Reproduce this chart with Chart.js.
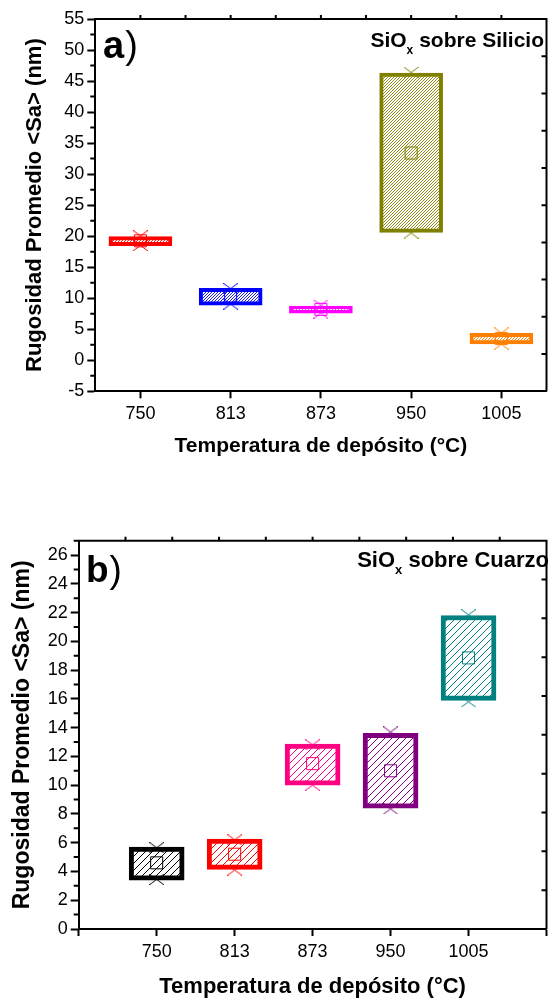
<!DOCTYPE html>
<html lang="es">
<head>
<meta charset="UTF-8">
<title>Rugosidad promedio vs temperatura de depósito</title>
<script src="https://cdn.jsdelivr.net/npm/chart.js"></script>
<style>
  body { margin: 0; background: #fff; }
  .panel { position: absolute; left: 0; width: 556px; height: 500px; }
  #wrapA { top: 0; }
  #wrapB { top: 500px; }
</style>
</head>
<body>
<div class="panel" id="wrapA"><canvas id="chartA" width="556" height="500"></canvas></div>
<div class="panel" id="wrapB"><canvas id="chartB" width="556" height="500"></canvas></div>
<script>
// === Data ===
const temps = ['750', '813', '873', '950', '1005'];

// a) SiOx sobre Silicio
const siBoxLow  = [18.45, 8.9, 7.6, 20.6, 2.65];
const siBoxHigh = [19.95, 11.6, 8.75, 46.3, 4.35];
const siMean    = [19.25, 10.3, 8.2, 33.4, 3.5];
const siMin     = [18.5, 9.05, 7.6, 20.5, 2.6];
const siMax     = [20.05, 11.55, 8.9, 46.4, 4.4];
const siColors  = ['#ff0000', '#0000ff', '#ff00ff', '#808000', '#ff8000'];
const siYTicks  = [-5, 0, 5, 10, 15, 20, 25, 30, 35, 40, 45, 50, 55];

// b) SiOx sobre Cuarzo
const quBoxLow  = [3.4, 4.15, 10.0, 8.4, 15.9];
const quBoxHigh = [5.7, 6.25, 12.85, 13.6, 21.8];
const quMean    = [4.6, 5.2, 11.5, 11.0, 18.85];
const quMin     = [3.45, 4.1, 10.0, 8.35, 15.8];
const quMax     = [5.65, 6.2, 12.8, 13.7, 21.85];
const quColors  = ['#000000', '#ff0000', '#ff0080', '#800080', '#008080'];
const quYTicks  = [0, 2, 4, 6, 8, 10, 12, 14, 16, 18, 20, 22, 24, 26];

const FONT = '"Liberation Sans", Arial, sans-serif';

// === hatch fill "/" ===
function hatch(ctx, color, step, lw) {
  const c = document.createElement('canvas');
  c.width = step; c.height = step;
  const g = c.getContext('2d');
  g.fillStyle = '#fff';
  g.fillRect(0, 0, step, step);
  g.strokeStyle = color;
  g.lineWidth = lw;
  g.beginPath();
  g.moveTo(-1, step + 1); g.lineTo(step + 1, -1);
  g.moveTo(-1, 1); g.lineTo(1, -1);
  g.moveTo(step - 1, step + 1); g.lineTo(step + 1, step - 1);
  g.stroke();
  return ctx.createPattern(c, 'repeat');
}

// === X marker (a bit wider than tall, like Origin) ===
function crossMark(color, w, h) {
  const c = document.createElement('canvas');
  c.width = w; c.height = h;
  const g = c.getContext('2d');
  g.strokeStyle = color;
  g.lineWidth = 1;
  g.beginPath();
  g.moveTo(0, 0); g.lineTo(w, h);
  g.moveTo(w, 0); g.lineTo(0, h);
  g.stroke();
  return c;
}

// === frame, minor ticks, panel label, inner title ===
const framePlugin = {
  id: 'frame',
  afterDraw(chart, args, o) {
    const { ctx, chartArea: a, scales: { y } } = chart;
    ctx.save();
    ctx.strokeStyle = '#000';
    ctx.lineWidth = 2;
    ctx.beginPath();
    ctx.moveTo(a.left, a.top); ctx.lineTo(a.right, a.top); ctx.lineTo(a.right, a.bottom);
    for (let k = 1; k < 10; k++) {
      const px = a.left + (a.right - a.left) * k / 10;
      ctx.moveTo(px, a.top); ctx.lineTo(px, a.top - 4);
      const py = a.top + (a.bottom - a.top) * k / 10;
      ctx.moveTo(a.right, py); ctx.lineTo(a.right - 5, py);
    }
    o.minor.forEach(v => {
      const py = y.getPixelForValue(v);
      ctx.moveTo(a.left, py); ctx.lineTo(a.left - 5, py);
    });
    ctx.stroke();

    // panel letter
    ctx.fillStyle = '#000';
    ctx.textBaseline = 'alphabetic';
    ctx.textAlign = 'left';
    ctx.font = 'bold ' + o.letterSize + 'px ' + FONT;
    ctx.fillText(o.letter, o.letterX, o.letterY);
    const lw = ctx.measureText(o.letter).width;
    ctx.font = o.letterSize + 'px ' + FONT;
    ctx.fillText(')', o.letterX + lw + 1, o.letterY);

    // "SiOx sobre ..." right aligned
    const big = 'bold ' + o.titleSize + 'px ' + FONT;
    const small = 'bold ' + Math.round(o.titleSize * 0.58) + 'px ' + FONT;
    ctx.font = big;
    const w1 = ctx.measureText('SiO').width;
    const w3 = ctx.measureText(' ' + o.title).width;
    ctx.font = small;
    const w2 = ctx.measureText('x').width;
    let x = o.titleRight - (w1 + w2 + w3);
    ctx.font = big;
    ctx.fillText('SiO', x, o.titleY);
    x += w1;
    ctx.font = small;
    ctx.fillText('x', x, o.titleY + 7);
    x += w2;
    ctx.font = big;
    ctx.fillText(' ' + o.title, x, o.titleY);
    ctx.restore();
  }
};

function makeChart(id, s) {
  const canvas = document.getElementById(id);
  const ctx = canvas.getContext('2d');
  const xs = temps.map((_, i) => i + 1);
  const minor = [];
  for (let i = 0; i < s.yTicks.length - 1; i++) minor.push((s.yTicks[i] + s.yTicks[i + 1]) / 2);
  if (s.yMax > s.yTicks[s.yTicks.length - 1]) minor.push(s.yTicks[s.yTicks.length - 1] + 1);

  return new Chart(ctx, {
    type: 'bar',
    data: {
      datasets: [
        {
          type: 'scatter',
          order: 1,
          data: xs.map((x, i) => ({ x, y: s.min[i] })).concat(xs.map((x, i) => ({ x, y: s.max[i] }))),
          pointStyle: s.colors.concat(s.colors).map(c => crossMark(c, s.crossW, s.crossH)),
          showLine: false
        },
        {
          type: 'scatter',
          order: 2,
          data: xs.map((x, i) => ({ x, y: s.mean[i] })),
          pointStyle: 'rect',
          pointRadius: 8.5,
          pointBorderWidth: 1,
          pointBorderColor: s.colors,
          pointBackgroundColor: 'rgba(0,0,0,0)',
          showLine: false
        },
        {
          type: 'bar',
          order: 3,
          data: xs.map((x, i) => ({ x, y: [s.low[i], s.high[i]] })),
          backgroundColor: s.colors.map(c => hatch(ctx, c, s.hatchStep, s.hatchLw)),
          borderColor: s.colors,
          borderWidth: s.boxLw,
          borderSkipped: false,
          barThickness: s.barW
        }
      ]
    },
    options: {
      responsive: false,
      animation: false,
      events: [],
      layout: { padding: { left: 0, top: s.top, right: s.right, bottom: 0 } },
      plugins: {
        legend: { display: false },
        tooltip: { enabled: false },
        frame: Object.assign({ minor }, s.frame)
      },
      scales: {
        x: {
          type: 'linear',
          min: s.xMin,
          max: s.xMax,
          offset: false,
          afterBuildTicks: sc => { sc.ticks = s.xTicks.map(v => ({ value: v })); },
          afterFit: sc => { sc.height = s.xHeight; },
          ticks: {
            callback: v => temps[v - 1] || '',
            autoSkip: false,
            maxRotation: 0,
            padding: 5,
            color: '#000',
            font: { family: FONT, size: 18 }
          },
          grid: { offset: false, drawOnChartArea: false, drawTicks: true, tickLength: 7, tickWidth: 2, tickColor: '#000' },
          border: { display: true, color: '#000', width: 2 },
          title: {
            display: true,
            text: 'Temperatura de depósito (°C)',
            color: '#000',
            font: { family: FONT, size: s.titleSize, weight: 'bold' },
            padding: { top: 0, bottom: s.xTitlePad }
          }
        },
        y: {
          min: s.yMin,
          max: s.yMax,
          afterBuildTicks: sc => { sc.ticks = s.yTicks.map(v => ({ value: v })); },
          afterFit: sc => { sc.width = s.yWidth; },
          ticks: {
            padding: 3,
            color: '#000',
            font: { family: FONT, size: 18 }
          },
          grid: { drawOnChartArea: false, drawTicks: true, tickLength: 8, tickWidth: 2, tickColor: '#000' },
          border: { display: true, color: '#000', width: 2 },
          title: {
            display: true,
            text: 'Rugosidad Promedio <Sa> (nm)',
            color: '#000',
            font: { family: FONT, size: s.yTitleSize, weight: 'bold' },
            padding: { top: s.yTitlePad, bottom: 0 }
          }
        }
      }
    },
    plugins: [framePlugin]
  });
}

// a)
makeChart('chartA', {
  low: siBoxLow, high: siBoxHigh, mean: siMean, min: siMin, max: siMax, colors: siColors,
  yTicks: siYTicks, yMin: -5, yMax: 55,
  xMin: 0.5, xMax: 5.5, xTicks: [1, 2, 3, 4, 5],
  top: 19, right: 3.3, yWidth: 95.3, xHeight: 108.7,
  titleSize: 21, yTitleSize: 22, xTitlePad: 40.7, yTitlePad: 21.5,
  barW: 63, boxLw: 4, hatchStep: 3, hatchLw: 0.9, crossW: 15, crossH: 11,
  frame: { letter: 'a', letterSize: 38, letterX: 103, letterY: 58,
           title: 'sobre Silicio', titleSize: 21, titleRight: 544, titleY: 47 }
});

// b)
makeChart('chartB', {
  low: quBoxLow, high: quBoxHigh, mean: quMean, min: quMin, max: quMax, colors: quColors,
  yTicks: quYTicks, yMin: 0, yMax: 27,
  xMin: 0, xMax: 6, xTicks: [0, 1, 2, 3, 4, 5, 6],
  top: 40.7, right: 1, yWidth: 78.7, xHeight: 71,
  titleSize: 22, yTitleSize: 23, xTitlePad: 0, yTitlePad: 9,
  barW: 55, boxLw: 5, hatchStep: 7, hatchLw: 1, crossW: 15, crossH: 11,
  frame: { letter: 'b', letterSize: 37, letterX: 86, letterY: 82,
           title: 'sobre Cuarzo', titleSize: 22, titleRight: 549, titleY: 67 }
});
</script>
</body>
</html>
